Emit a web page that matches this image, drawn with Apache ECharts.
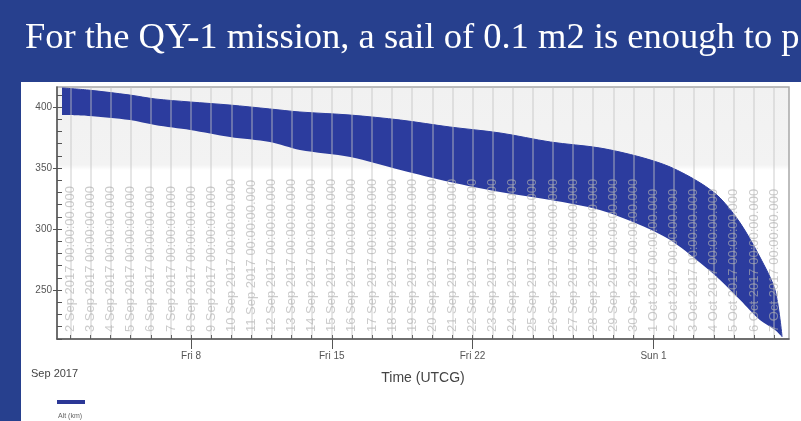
<!DOCTYPE html>
<html>
<head>
<meta charset="utf-8">
<script src="https://cdn.jsdelivr.net/npm/echarts@6.0.0/dist/echarts.min.js"></script>
<style>
  html, body { margin: 0; padding: 0; background: #27408e; }
  #chart { width: 801px; height: 421px; }
</style>
</head>
<body>
<div id="chart"></div>
<script>
// altitude band (km), upper and lower envelope of the orbit
var times = ['2017-09-01T14:00Z', '2017-09-02T21:00Z', '2017-09-04T23:00Z', '2017-09-06T05:00Z',
  '2017-09-07T23:00Z', '2017-09-09T22:30Z', '2017-09-11T22:00Z', '2017-09-13T10:00Z',
  '2017-09-15T22:00Z', '2017-09-18T10:00Z', '2017-09-20T21:00Z', '2017-09-23T09:00Z',
  '2017-09-25T21:00Z', '2017-09-28T08:00Z', '2017-09-30T08:00Z', '2017-10-01T20:00Z',
  '2017-10-03T08:00Z', '2017-10-04T07:30Z', '2017-10-05T07:30Z', '2017-10-06T07:00Z',
  '2017-10-07T01:00Z', '2017-10-07T09:30Z'];
var altUpper = [415.6, 413.9, 409.8, 406.6, 404.1, 401.6, 398.4, 395.9, 393.4, 389.3, 383.6,
  378.7, 371.3, 366.4, 359.0, 350.8, 337.7, 325.4, 304.9, 277.0, 250.0, 211.5];
var altLower = [393.4, 392.6, 389.3, 385.2, 381.1, 375.4, 371.3, 364.8, 359.0, 348.4, 338.5,
  330.3, 323.8, 315.6, 303.3, 291.0, 272.1, 258.2, 241.8, 225.4, 217.2, 211.5];

// axis marks
var weekTicks = ['2017-09-08T00:00Z', '2017-09-15T00:00Z', '2017-09-22T00:00Z', '2017-10-01T00:00Z'];
var weekLabels = ['Fri 8', 'Fri 15', 'Fri 22', 'Sun 1'];
var yMajor = [250, 300, 350, 400];
var yMinor = [210, 220, 230, 240, 250, 260, 270, 280, 290, 300, 310, 320, 330, 340, 350, 360, 370, 380, 390, 400, 410];
var months = ['Jan', 'Feb', 'Mar', 'Apr', 'May', 'Jun', 'Jul', 'Aug', 'Sep', 'Oct', 'Nov', 'Dec'];

var xMin = Date.parse('2017-09-01T08:00Z');
var xMax = Date.parse('2017-10-07T17:45Z');
var dayMs = 86400000;

// one grid line per day at midnight
var dayTicks = [];
for (var d = Date.parse('2017-09-02T00:00Z'); d <= xMax; d += dayMs) dayTicks.push(d);

var weekMs = weekTicks.map(function (s) { return Date.parse(s); });

var lowerData = times.map(function (t, i) { return [Date.parse(t), altLower[i]]; });
var bandData = times.map(function (t, i) { return [Date.parse(t), altUpper[i] - altLower[i]]; });

var myChart = echarts.init(document.getElementById('chart'));

var option = {
  backgroundColor: '#27408e',
  animation: false,
  title: {
    text: 'For the QY-1 mission, a sail of 0.1 m2 is enough to p',
    left: 25,
    top: 20,
    padding: 0,
    textStyle: {
      color: '#ffffff',
      fontFamily: 'Liberation Serif',
      fontWeight: 'normal',
      fontSize: 36.5
    }
  },
  graphic: [
    { type: 'rect', z: -10, shape: { x: 21, y: 82, width: 780, height: 339 }, style: { fill: '#ffffff' } },
    { type: 'text', z: 50, left: 31, top: 368, style: { text: 'Sep 2017', fill: '#444', font: '11px Liberation Sans' } },
    { type: 'rect', z: 50, shape: { x: 57, y: 400, width: 28, height: 4 }, style: { fill: '#2b3796' } },
    { type: 'text', z: 50, left: 58, top: 413, style: { text: 'Alt (km)', fill: '#666', font: '7px Liberation Sans' } }
  ],
  grid: {
    left: 57,
    top: 87,
    right: 12,
    bottom: 82,
    show: true,
    borderColor: '#a8a8a8',
    borderWidth: 1.5,
    backgroundColor: {
      type: 'linear', x: 0, y: 0, x2: 0, y2: 1,
      colorStops: [
        { offset: 0, color: '#f1f1f1' },
        { offset: 0.31, color: '#f3f3f3' },
        { offset: 0.33, color: '#ffffff' },
        { offset: 1, color: '#ffffff' }
      ]
    }
  },
  xAxis: [
    {
      // axis the altitude band is drawn on
      type: 'time',
      position: 'top',
      min: xMin,
      max: xMax,
      axisLine: { show: false },
      axisTick: { show: false },
      axisLabel: { show: false },
      splitLine: { show: false }
    },
    {
      // daily grid lines with the long date stamps
      type: 'value',
      position: 'bottom',
      min: xMin,
      max: xMax,
      z: 5,
      axisLine: { show: false },
      axisTick: {
        customValues: dayTicks,
        inside: true,
        length: 4,
        lineStyle: { color: '#666' }
      },
      splitLine: {
        show: true,
        lineStyle: { color: 'rgba(195,195,195,0.55)', width: 1.5 }
      },
      axisLabel: {
        customValues: dayTicks,
        inside: true,
        rotate: 90,
        margin: 7,
        color: 'rgba(175,175,175,0.65)',
        fontFamily: 'Liberation Sans',
        fontSize: 13,
        formatter: function (v) {
          var dt = new Date(v);
          return dt.getUTCDate() + ' ' + months[dt.getUTCMonth()] + ' ' + dt.getUTCFullYear() + ' 00:00:00.000';
        }
      }
    },
    {
      type: 'value',
      min: xMin,
      max: xMax,
      position: 'bottom',
      z: 6,
      name: 'Time (UTCG)',
      nameLocation: 'middle',
      nameGap: 32,
      nameTextStyle: { color: '#444', fontFamily: 'Liberation Sans', fontSize: 14 },
      axisLine: { show: true, lineStyle: { color: '#555', width: 1.5 } },
      axisTick: {
        customValues: weekMs,
        length: 10,
        lineStyle: { color: '#555' }
      },
      axisLabel: {
        customValues: weekMs,
        margin: 12,
        color: '#555',
        fontFamily: 'Liberation Sans',
        fontSize: 10,
        formatter: function (v) { return weekLabels[weekMs.indexOf(v)]; }
      },
      splitLine: { show: false }
    }
  ],
  yAxis: [
    {
      type: 'value',
      min: 209.8,
      max: 416.4,
      z: 6,
      axisLine: { show: true, lineStyle: { color: '#555', width: 1.5 } },
      axisTick: { customValues: yMajor, length: 4, lineStyle: { color: '#555' } },
      axisLabel: {
        customValues: yMajor,
        margin: 5,
        color: '#555',
        fontFamily: 'Liberation Sans',
        fontSize: 10
      },
      splitLine: { show: false }
    },
    {
      type: 'value',
      min: 209.8,
      max: 416.4,
      position: 'left',
      z: 6,
      axisLine: { show: false },
      axisTick: { customValues: yMinor, inside: true, length: 5, lineStyle: { color: '#555' } },
      axisLabel: { show: false },
      splitLine: { show: false }
    }
  ],
  series: [
    {
      name: 'lower',
      type: 'line',
      xAxisIndex: 0,
      yAxisIndex: 0,
      stack: 'alt',
      data: lowerData,
      symbol: 'none',
      smooth: 0.3,
      lineStyle: { opacity: 0 },
      silent: true
    },
    {
      name: 'Alt (km)',
      type: 'line',
      xAxisIndex: 0,
      yAxisIndex: 0,
      stack: 'alt',
      data: bandData,
      symbol: 'none',
      smooth: 0.3,
      lineStyle: { width: 1, color: '#2c3c9e' },
      areaStyle: { color: '#2c3c9e', opacity: 1 }
    }
  ]
};

myChart.setOption(option);
</script>
</body>
</html>
